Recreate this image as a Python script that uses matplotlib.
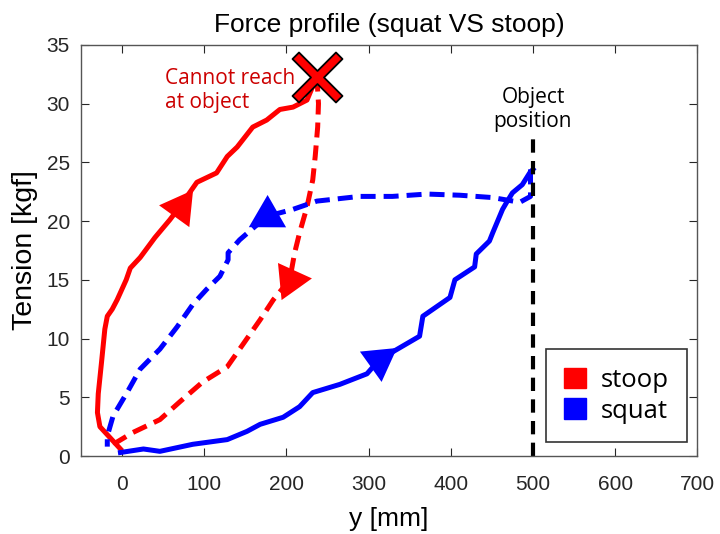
import numpy as np
import matplotlib.pyplot as plt
from matplotlib.path import Path

# stoop: reach out (solid) and come back (dashed)
stoop_out_y = [-2, -27, -30, -29, -25, -21, -18, -12, -6, 5, 10, 22, 40, 58, 70, 91, 115, 128, 140, 159, 176, 192, 208, 225, 237]
stoop_out_t = [0.6, 2.5, 3.7, 5.3, 8.0, 10.8, 11.9, 12.5, 13.3, 15.0, 16.0, 16.9, 18.6, 20.1, 21.2, 23.3, 24.1, 25.5, 26.3, 28.0, 28.6, 29.5, 29.7, 30.3, 32.3]
stoop_back_y = [237, 239, 238, 235, 232, 225, 216, 210, 204, 184, 168, 143, 128, 98, 70, 46, 13, -6, -11]
stoop_back_t = [32.3, 30.0, 28.0, 25.5, 23.5, 21.2, 19.0, 17.3, 15.0, 13.3, 11.6, 9.1, 7.6, 6.3, 4.6, 3.1, 2.0, 1.2, 0.6]

# squat: reach out (solid) and come back (dashed)
squat_out_y = [-2, 26, 46, 86, 128, 152, 168, 196, 216, 232, 265, 298, 313, 362, 366, 399, 405, 429, 431, 447, 451, 463, 468, 475, 487, 496, 500]
squat_out_t = [0.3, 0.6, 0.4, 1.0, 1.4, 2.1, 2.7, 3.3, 4.2, 5.4, 6.1, 7.0, 8.2, 10.2, 11.9, 13.5, 15.0, 16.1, 17.2, 18.3, 19.0, 21.0, 21.6, 22.4, 23.1, 24.1, 24.4]
squat_back_y = [497, 497, 484, 451, 411, 371, 329, 289, 237, 208, 176, 143, 129, 129, 119, 103, 86, 67, 46, 22, 6, -11, -18, -18]
squat_back_t = [24.4, 22.1, 21.6, 22.0, 22.2, 22.3, 22.1, 22.1, 21.7, 21.0, 20.4, 18.4, 17.3, 16.7, 15.3, 14.2, 12.9, 11.0, 9.1, 7.4, 5.4, 3.4, 1.7, 0.8]

object_y = 500
object_top = 27
stoop_arrow = 14   # index on stoop_out where the direction arrow sits
stoop_back_arrow = 8
squat_arrow = 12
squat_back_arrow = 10

RED = '#ff0000'
BLUE = '#0000ff'
sans = ['Open Sans', 'DejaVu Sans']
arial = ['Liberation Sans', 'DejaVu Sans']

fig = plt.figure(figsize=(7.2, 5.34), dpi=100)
ax = fig.add_axes([0.1125, 0.146, 0.856, 0.770])

dash = (0, (3, 1.6))
ax.plot(stoop_out_y, stoop_out_t, color=RED, lw=3.6, solid_joinstyle='round')
ax.plot(stoop_back_y, stoop_back_t, color=RED, lw=3.6, linestyle=dash)
ax.plot(squat_out_y, squat_out_t, color=BLUE, lw=3.6, solid_joinstyle='round')
ax.plot(squat_back_y, squat_back_t, color=BLUE, lw=3.6, linestyle=dash)
ax.plot([object_y, object_y], [0, object_top], color='black', lw=3.0, linestyle=(0, (3.2, 2.0)))

ax.set_xlim(-50, 700)
ax.set_ylim(0, 35)
ax.set_xticks(np.arange(0, 701, 100))
ax.set_yticks(np.arange(0, 36, 5))
ax.tick_params(direction='in', length=6, top=True, right=True, labelsize=15,
               colors='#262626', labelcolor='#262626')
ax.tick_params(axis='x', pad=14)
ax.tick_params(axis='y', pad=8)
for lab in ax.get_xticklabels() + ax.get_yticklabels():
    lab.set_family(arial)
for s in ax.spines.values():
    s.set_color('#555555')
    s.set_linewidth(1.0)


def arrow_at(xs, ys, i, color):
    # triangle pointing along the curve at point i
    p0 = ax.transData.transform((xs[i - 1], ys[i - 1]))
    p1 = ax.transData.transform((xs[i + 1], ys[i + 1]))
    ang = np.degrees(np.arctan2(p1[1] - p0[1], p1[0] - p0[0]))
    ax.plot(xs[i], ys[i], marker=(3, 0, ang - 90), markersize=31, color=color,
            markeredgewidth=0, zorder=5)


arrow_at(stoop_out_y, stoop_out_t, stoop_arrow, RED)
arrow_at(stoop_back_y, stoop_back_t, stoop_back_arrow, RED)
arrow_at(squat_out_y, squat_out_t, squat_arrow, BLUE)
arrow_at(squat_back_y, squat_back_t, squat_back_arrow, BLUE)

# thin-armed cross where the stoop reach ends
w = 0.15
arm = [(-w, -1), (w, -1), (w, -w), (1, -w), (1, w), (w, w), (w, 1), (-w, 1),
       (-w, w), (-1, w), (-1, -w), (-w, -w), (-w, -1)]
c, s_ = np.cos(np.pi / 4), np.sin(np.pi / 4)
arm = [(x * c - y * s_, x * s_ + y * c) for x, y in arm]
cross = Path(arm, closed=True)
ax.plot(stoop_out_y[-1], stoop_out_t[-1], marker=cross, markersize=36, color=RED,
        markeredgecolor='black', markeredgewidth=1.3, zorder=6)

ax.text(52, 33.0, 'Cannot reach\nat object', color='#cc0000', fontsize=15,
        family=sans, va='top', ha='left', linespacing=1.15)
ax.text(object_y, object_top + 0.6, 'Object\nposition', color='black', fontsize=15,
        family=sans, va='bottom', ha='center', linespacing=1.15)

ax.set_title('Force profile (squat VS stoop)', fontsize=19, family=arial, pad=9)
ax.set_xlabel('y [mm]', fontsize=19, family=arial, labelpad=9)
ax.set_ylabel('Tension [kgf]', fontsize=20.5, family=arial, labelpad=6)

handles = [plt.Rectangle((0, 0), 1, 1, color=RED), plt.Rectangle((0, 0), 1, 1, color=BLUE)]
leg = ax.legend(handles, ['stoop', 'squat'], loc='lower right', bbox_to_anchor=(0.983, 0.034),
                prop={'family': sans, 'size': 18.5}, fancybox=False, framealpha=1,
                edgecolor='#333333', handlelength=0.85, handleheight=0.85, handletextpad=0.55,
                borderpad=0.72, labelspacing=0.22, borderaxespad=0)
leg.get_frame().set_linewidth(1.2)

fig.savefig('out.png', dpi=100)
